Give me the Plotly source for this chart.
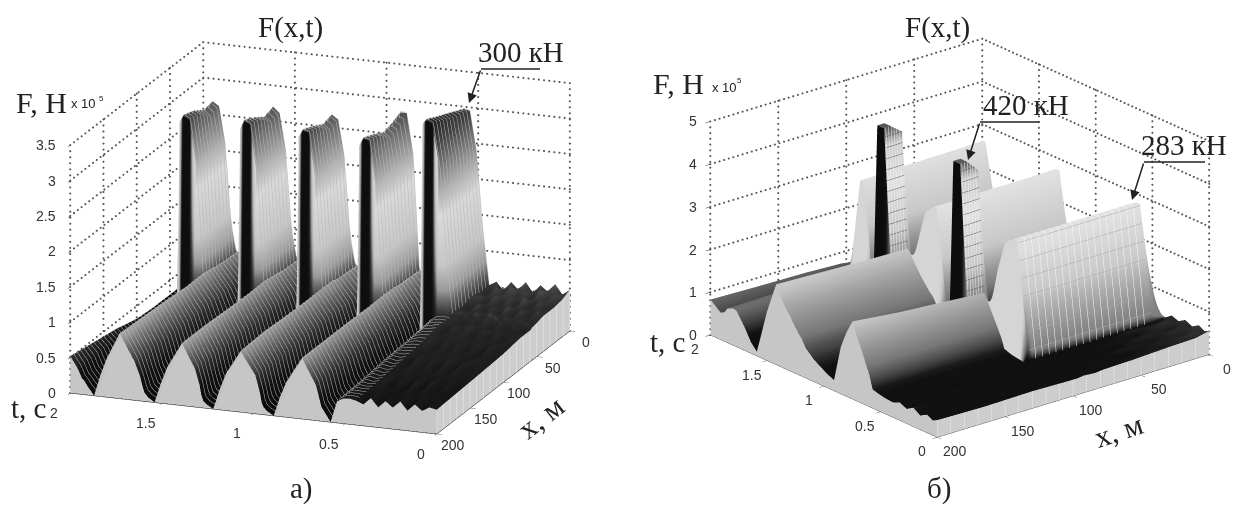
import numpy as np
import plotly.graph_objects as go

# ---------- panel a ----------
x_a = [0, 12, 25, 40, 54, 56, 59, 75, 100, 130, 165, 200]
t_a = [2.0, 1.96, 1.935, 1.925, 1.905, 1.87, 1.835, 1.80, 1.73, 1.65, 1.62, 1.605,
       1.595, 1.575, 1.54, 1.505, 1.47, 1.39, 1.32, 1.295, 1.285,
       1.275, 1.255, 1.22, 1.185, 1.15, 1.07, 0.99, 0.965, 0.955,
       0.945, 0.925, 0.89, 0.855, 0.82, 0.735, 0.66, 0.63, 0.61,
       0.60, 0.58, 0.545, 0.51, 0.475, 0.44,
       0.40, 0.36, 0.32, 0.28, 0.24, 0.20, 0.16, 0.12, 0.08, 0.04, 0.0]
F_a = [
 [.30,.30,.30,.30,.30,.30,.30,.30,.32,.40,.46,.52],
 [.25,.25,.25,.25,.25,.25,.25,.25,.27,.30,.35,.36],
 [.20,.20,.20,.20,.20,.20,.20,.20,.20,.20,.20,.22],
 [.30,2.65,2.7,2.75,2.8,2.8,.20,.20,.18,.15,.16,.20],
 [.30,2.78,2.75,2.85,2.9,2.9,.22,.20,.17,.14,.10,.12],
 [.30,2.72,2.66,2.8,2.85,2.85,.30,.25,.18,.12,.06,.0],
 [.30,2.2,2.1,2.1,2.2,2.2,.45,.40,.35,.30,.25,.30],
 [.60,.60,.60,.62,.65,.65,.60,.60,.55,.50,.50,.55],
 [.75,.75,.78,.78,.80,.80,.82,.85,.85,.88,.90,.92],
 [.52,.52,.52,.52,.52,.52,.54,.56,.54,.52,.52,.55],
 [.30,.30,.32,.35,.36,.36,.36,.36,.32,.28,.25,.35],
 [.20,.20,.20,.20,.20,.20,.20,.20,.20,.20,.18,.20],
 [.30,2.66,2.7,2.75,2.8,2.8,.20,.20,.18,.15,.12,.12],
 [.30,2.8,2.75,2.85,2.92,2.92,.22,.20,.16,.12,.08,.06],
 [.30,2.72,2.68,2.82,2.88,2.88,.30,.25,.18,.12,.05,.0],
 [.30,2.2,2.1,2.1,2.2,2.2,.45,.42,.36,.30,.25,.28],
 [.60,.60,.60,.62,.65,.65,.60,.60,.55,.52,.50,.52],
 [.75,.76,.78,.78,.80,.82,.82,.85,.85,.86,.88,.88],
 [.52,.52,.52,.54,.54,.54,.54,.56,.54,.52,.52,.54],
 [.30,.30,.32,.35,.36,.36,.36,.36,.32,.28,.25,.32],
 [.20,.20,.20,.20,.20,.20,.20,.20,.20,.20,.18,.18],
 [.30,2.64,2.68,2.72,2.78,2.78,.20,.20,.18,.15,.12,.10],
 [.30,2.78,2.74,2.82,2.88,2.88,.22,.20,.16,.12,.08,.05],
 [.30,2.72,2.66,2.8,2.86,2.86,.30,.25,.18,.12,.05,.0],
 [.30,2.2,2.1,2.12,2.2,2.2,.45,.42,.36,.30,.25,.28],
 [.60,.60,.62,.62,.65,.65,.60,.60,.56,.52,.50,.52],
 [.76,.76,.78,.80,.80,.82,.84,.85,.85,.86,.88,.86],
 [.52,.52,.54,.54,.54,.54,.54,.56,.54,.52,.52,.54],
 [.30,.30,.32,.35,.36,.36,.36,.36,.32,.28,.25,.30],
 [.20,.20,.20,.20,.20,.20,.20,.20,.20,.20,.18,.16],
 [2.55,2.6,2.66,2.7,2.75,2.75,.20,.20,.18,.15,.12,.10],
 [2.82,2.76,2.72,2.8,2.86,2.86,.22,.20,.16,.12,.08,.05],
 [2.82,2.7,2.64,2.78,2.84,2.84,.30,.25,.18,.12,.05,.0],
 [2.25,2.18,2.1,2.1,2.18,2.18,.45,.42,.36,.30,.25,.28],
 [.60,.60,.62,.62,.65,.65,.60,.60,.56,.52,.50,.50],
 [.78,.78,.80,.80,.82,.82,.84,.85,.85,.86,.86,.86],
 [.52,.54,.54,.54,.54,.54,.54,.54,.52,.50,.50,.50],
 [.30,.30,.32,.35,.36,.36,.36,.36,.32,.28,.22,.20],
 [.22,.22,.22,.22,.22,.22,.20,.20,.20,.18,.15,.12],
 [2.9,3.0,3.05,3.1,3.15,3.15,.22,.22,.18,.15,.10,.08],
 [2.97,3.02,3.08,3.15,3.22,3.22,.25,.22,.20,.15,.08,.0],
 [2.95,3.0,3.02,3.1,3.18,3.18,.42,.40,.38,.36,.32,.30],
 [2.4,2.5,2.5,2.55,2.6,2.6,.48,.46,.42,.40,.36,.35],
 [1.3,1.35,1.3,1.35,1.35,1.35,.50,.48,.44,.38,.34,.36],
 [.52,.50,.54,.50,.52,.50,.48,.50,.44,.40,.36,.34],
 [.58,.46,.56,.44,.54,.42,.52,.40,.48,.34,.42,.30],
 [.46,.60,.44,.56,.42,.54,.40,.50,.36,.46,.32,.40],
 [.60,.48,.58,.44,.56,.40,.50,.44,.46,.36,.40,.28],
 [.50,.62,.46,.54,.44,.50,.42,.52,.38,.44,.30,.38],
 [.62,.50,.56,.42,.58,.42,.54,.38,.48,.34,.42,.30],
 [.48,.58,.44,.58,.40,.56,.38,.50,.36,.46,.30,.40],
 [.60,.46,.60,.42,.54,.44,.52,.40,.46,.32,.42,.28],
 [.52,.62,.42,.56,.46,.50,.40,.48,.34,.44,.32,.38],
 [.64,.50,.56,.44,.52,.42,.50,.38,.46,.36,.38,.30],
 [.50,.58,.48,.54,.42,.52,.40,.46,.38,.40,.32,.36],
 [.58,.52,.50,.50,.46,.46,.44,.44,.40,.38,.36,.34],
]
tick_t_a = [0, 0.5, 1, 1.5, 2]
tick_x_a = [0, 50, 100, 150, 200]
tick_z_a = [0, 0.5, 1, 1.5, 2, 2.5, 3, 3.5]
light_a = [1.925, 1.595, 1.275, 0.945, 0.60]
dark_a = [1.905, 1.87, 1.575, 1.54, 1.255, 1.22, 0.925, 0.89, 0.58, 0.545]

# ---------- panel b ----------
x_b = [0, 10, 30, 55, 78, 84, 92, 97, 100, 103, 130, 165, 200]
t_b = [2.0, 1.95, 1.91, 1.875, 1.85, 1.8, 1.77, 1.76, 1.7, 1.64, 1.59, 1.5, 1.42, 1.38, 1.34, 1.3,
       1.23, 1.2, 1.16, 1.1, 1.09, 1.03, 0.97, 0.91, 0.85, 0.8, 0.746, 0.72, 0.66, 0.6, 0.57,
       0.52, 0.49, 0.44, 0.395, 0.39, 0.33, 0.27, 0.21, 0.15, 0.09, 0.04, 0.0]
F_b = [
 [.62,.65,.65,.70,.72,.72,.72,.72,.72,.74,.78,.80,.83],
 [.80,.80,.80,.80,.80,.80,.80,.80,.80,.70,.72,.70,.72],
 [.60,1.9,1.9,1.9,1.9,1.9,1.9,1.9,1.9,.62,.62,.60,.63],
 [.60,2.86,2.84,2.83,2.82,2.82,2.8,2.8,2.8,.66,.65,.66,.68],
 [.60,2.85,2.84,2.82,2.82,2.8,2.8,2.8,2.8,.80,.80,.82,.80],
 [.55,1.6,1.6,1.6,1.6,1.6,1.6,1.6,1.6,.85,.85,.85,.86],
 [.55,.55,.55,.55,.55,.55,.55,.55,.55,.80,.80,.82,.84],
 [.50,.50,.50,.50,.50,4.0,4.2,4.2,.55,.75,.75,.78,.80],
 [.45,.45,.45,.45,.50,4.0,4.2,4.2,.50,.50,.50,.52,.55],
 [.42,.42,.42,.42,.45,.90,.90,.90,.40,.25,.25,.25,.25],
 [.40,.40,.40,.40,.40,.40,.40,.40,.40,.12,.10,.12,.10],
 [.40,.40,.42,.42,.42,.42,.42,.42,.42,1.05,1.10,1.12,1.15],
 [.45,1.3,1.3,1.3,1.3,1.3,1.3,1.3,1.3,1.78,1.80,1.84,1.88],
 [.45,1.8,1.8,1.8,1.8,1.8,1.8,1.8,1.8,1.60,1.60,1.65,1.65],
 [.45,2.3,2.3,2.3,2.3,2.3,2.3,2.3,2.3,1.42,1.42,1.45,1.45],
 [.45,2.75,2.75,2.75,2.75,2.75,2.75,2.75,2.75,1.25,1.25,1.28,1.30],
 [.45,2.97,2.96,2.96,2.95,2.95,2.95,2.95,2.95,1.0,1.0,.98,1.0],
 [.45,2.97,2.96,2.96,2.95,2.95,2.95,2.95,2.95,.92,.90,.90,.90],
 [.45,1.9,1.9,1.9,1.9,1.9,1.9,1.9,1.9,.72,.70,.70,.70],
 [.42,.42,.42,.42,.42,.42,.42,.42,.42,.55,.55,.55,.55],
 [.40,.40,.40,.40,.40,3.9,4.17,4.17,.42,.52,.52,.52,.52],
 [.40,.40,.40,.40,.40,3.9,4.17,4.17,.42,.42,.42,.42,.42],
 [.38,.38,.38,.38,.40,.90,.90,.90,.40,.32,.32,.32,.32],
 [.38,.38,.38,.38,.38,.38,.38,.38,.38,.25,.24,.25,.25],
 [.38,.38,.38,.38,.38,.38,.38,.38,.38,1.0,1.05,1.10,1.10],
 [.38,.38,.38,.38,.38,.38,.38,.38,.38,1.35,1.40,1.45,1.50],
 [.40,.40,.40,.40,.40,.40,.40,.40,.40,1.55,1.62,1.70,1.82],
 [.42,1.3,1.3,1.3,1.3,1.3,1.3,1.3,1.3,1.40,1.45,1.55,1.60],
 [.42,2.2,2.2,2.2,2.2,2.2,2.2,2.2,2.2,1.05,1.10,1.15,1.20],
 [.42,2.85,2.85,2.85,2.85,2.85,2.85,2.85,2.85,.70,.72,.75,.75],
 [.42,2.95,2.95,2.95,2.95,2.95,2.95,2.95,2.95,.45,.45,.44,.44],
 [.42,3.03,3.03,3.04,3.05,3.05,3.05,3.05,3.05,.40,.40,.40,.40],
 [.42,3.03,3.03,3.04,3.05,3.05,3.05,3.05,3.05,.38,.38,.38,.38],
 [.42,1.7,1.7,1.7,1.7,1.7,1.7,1.7,1.7,.36,.36,.36,.36],
 [.42,.55,.55,.55,.55,.55,.55,.55,.55,.34,.34,.35,.35],
 [.40,.36,.36,.35,.35,.35,.35,.35,.35,.34,.34,.35,.35],
 [.52,.44,.46,.36,.38,.34,.40,.33,.38,.35,.40,.32,.42],
 [.46,.54,.40,.42,.34,.40,.34,.40,.32,.40,.33,.42,.34],
 [.56,.44,.48,.36,.40,.34,.40,.34,.40,.33,.42,.34,.44],
 [.48,.52,.42,.44,.36,.40,.33,.40,.35,.42,.34,.40,.33],
 [.58,.46,.46,.38,.42,.35,.40,.33,.38,.34,.40,.34,.42],
 [.50,.54,.44,.42,.36,.40,.36,.40,.34,.40,.35,.38,.35],
 [.55,.48,.46,.42,.40,.38,.40,.38,.38,.38,.40,.38,.40],
]
tick_t_b = [0, 0.5, 1, 1.5, 2]
tick_x_b = [0, 50, 100, 150, 200]
tick_z_b = [0, 1, 2, 3, 4, 5]
dark_b = [1.76, 1.7, 1.09, 1.03]
light_b = [1.91, 1.875, 1.85, 1.8, 1.42, 1.38, 1.34, 1.3, 1.23, 1.2, 1.16, 0.72, 0.66, 0.6, 0.57, 0.52, 0.49, 0.44]

CS_A = [[0, '#0a0a0a'], [.3/3.5, '#111111'], [.5/3.5, '#2c2c2c'], [.7/3.5, '#666666'], [.85/3.5, '#9a9a9a'],
        [1.2/3.5, '#c6c6c6'], [1.9/3.5, '#dadada'], [2.2/3.5, '#b4b4b4'], [2.6/3.5, '#777777'], [2.9/3.5, '#444444'], [3.2/3.5, '#222222'], [1, '#111111']]
CS_B = [[0, '#0a0a0a'], [.4/5, '#111111'], [.6/5, '#444444'], [.9/5, '#777777'], [1.3/5, '#999999'],
        [1.8/5, '#c8c8c8'], [3/5, '#e2e2e2'], [3.8/5, '#cccccc'], [4.2/5, '#555555'], [1, '#444444']]


def split_face(xs, rows, idx):
    """Duplicate the columns around one end face so it can be shaded on its own."""
    out_x = list(xs[:idx + 1]) + [xs[idx] + .2, xs[idx + 1], xs[idx + 1] + .1] + list(xs[idx + 2:])
    out = [list(r[:idx + 1]) + [r[idx], r[idx + 1], r[idx + 1]] + list(r[idx + 2:]) for r in rows]
    return out_x, out


def grid_trace(scene, t_ticks, x_ticks, z_ticks, n_x, n_t, n_z):
    """Dotted box grid on the two back walls, from the tick arrays."""
    top, tm, xm, xM = z_ticks[-1], max(t_ticks), min(x_ticks), max(x_ticks)
    xs, ys, zs = [], [], []
    def seg(p, q, n):
        for s in np.linspace(0, 1, n):
            xs.append(p[0] + (q[0] - p[0]) * s); ys.append(p[1] + (q[1] - p[1]) * s); zs.append(p[2] + (q[2] - p[2]) * s)
    for v in x_ticks:
        seg((tm, v, 0), (tm, v, top), n_z)
    for v in t_ticks:
        seg((v, xm, 0), (v, xm, top), n_z)
    for v in z_ticks:
        seg((tm, xm, v), (tm, xM, v), n_x)
        seg((0, xm, v), (tm, xm, v), n_t)
    return go.Scatter3d(x=xs, y=ys, z=zs, mode='markers', scene=scene, hoverinfo='skip', showlegend=False,
                        marker=dict(color='#555555', size=1.2, line=dict(width=0)))


LIGHT = dict(ambient=1, diffuse=0, specular=0, roughness=1, fresnel=0)


def surface_traces(scene, ts, xs, rows, cs, cmax, faces, bands=()):
    """faces: (column index, rows of t, colour value) for the faces shaded apart from the height."""
    xs2, rows2 = xs, rows
    split_at = sorted({f[0] for f in faces}, reverse=True)
    for idx in split_at:
        xs2, rows2 = split_face(xs2, rows2, idx)
    Z = np.array(rows2, float)
    C = Z.copy()
    for idx, which, val in faces:
        off = 2 * sum(1 for k in split_at if k < idx)
        for i, t in enumerate(ts):
            if t in which:
                C[i, idx + off + 1:idx + off + 3] = val
    for t, last, val in bands:
        C[ts.index(t), :last] = val
    tr = [go.Surface(x=ts, y=xs2, z=Z.T, surfacecolor=C.T, colorscale=cs, cmin=0, cmax=cmax, showscale=False,
                     scene=scene, lighting=LIGHT, hoverinfo='skip')]
    edge = Z[:, -1]
    tr.append(go.Surface(x=ts, y=[200, 200], z=[[0] * len(ts), list(edge)], surfacecolor=[[0] * len(ts)] * 2,
                         colorscale=[[0, '#c6c6c6'], [1, '#c6c6c6']], showscale=False, scene=scene, lighting=LIGHT,
                         hoverinfo='skip'))
    i0 = int(np.argmin(ts))
    tr.append(go.Surface(x=[0, 0], y=xs2, z=[[0, v] for v in Z[i0, :]], surfacecolor=[[0, 0] for _ in xs2],
                         colorscale=[[0, '#cdcdcd'], [1, '#cdcdcd']], showscale=False, scene=scene, lighting=LIGHT,
                         hoverinfo='skip',
                         contours=dict(y=dict(show=True, start=0, end=200, size=10, color='#ececec', width=1))))
    return tr


def mesh_overlay(scene, ts, xs, rows, t0, t1, x0, x1, lines):
    """Wire lines over one part of the surface, as in the original's open mesh."""
    ri = [i for i, t in enumerate(ts) if t0 <= t <= t1]
    ci = [j for j, v in enumerate(xs) if x0 <= v <= x1]
    sub = np.array(rows, float)[np.ix_(ri, ci)] + .01
    return go.Surface(x=[ts[i] for i in ri], y=[xs[j] for j in ci], z=sub.T, hidesurface=True, showscale=False,
                      colorscale=[[0, '#ffffff'], [1, '#ffffff']], scene=scene, hoverinfo='skip', lighting=LIGHT,
                      contours=lines)


fig = go.Figure()
for tr in surface_traces('scene', t_a, x_a, F_a, CS_A, 3.5, [(5, light_a, 1.4), (5, dark_a, 0.2)]):
    fig.add_trace(tr)
fig.add_trace(mesh_overlay('scene', t_a, x_a, F_a, 0.44, 2.0, 0, 200,
                           dict(y=dict(show=True, start=0, end=200, size=5, color='#b8b8b8', width=1))))
fig.add_trace(grid_trace('scene', tick_t_a, tick_x_a, tick_z_a, 36, 72, 42))
for tr in surface_traces('scene2', t_b, x_b, F_b, CS_B, 5, [(7, dark_b, 0.1), (8, light_b, 2.4)],
                         bands=[(0.395, 9, 1.0)]):
    fig.add_trace(tr)
fig.add_trace(mesh_overlay('scene2', t_b, x_b, F_b, 0.39, 0.52, 10, 100,
                           dict(y=dict(show=True, start=10, end=100, size=5, color='#f8f8f8', width=1),
                                z=dict(show=True, start=.6, end=3, size=.4, color='#a8a8a8', width=1))))
for t0, t1 in [(1.64, 1.7), (.97, 1.03)]:
    fig.add_trace(mesh_overlay('scene2', t_b, x_b, F_b, t0, t1, 84, 97,
                               dict(y=dict(show=True, start=84, end=97, size=2, color='#eeeeee', width=1),
                                    z=dict(show=True, start=1, end=4.2, size=.25, color='#555555', width=1))))
fig.add_trace(grid_trace('scene2', tick_t_b, tick_x_b, tick_z_b, 60, 60, 38))


def axis(ticks, rng, line=True, lw=2):
    return dict(range=rng, tickmode='array', tickvals=ticks, showticklabels=False,
                showgrid=False, zeroline=False, showbackground=False, showspikes=False, title=dict(text=''),
                showline=line, linecolor='#222222', linewidth=lw, ticks='outside', ticklen=6, tickcolor='#333333')


def tick_notes(t_ticks, x_ticks, z_ticks, t_shift, x_shift, z_shift):
    out = []
    base = dict(showarrow=False, font=dict(family='Liberation Sans', size=14, color='#333333'))
    for v in t_ticks:
        out.append(dict(x=v, y=max(x_ticks), z=0, text=str(v), xshift=t_shift[0], yshift=-t_shift[1], **base))
    for v in x_ticks:
        out.append(dict(x=0, y=v, z=0, text=str(v), xshift=x_shift[0], yshift=-x_shift[1], **base))
    for v in z_ticks:
        out.append(dict(x=max(t_ticks), y=max(x_ticks), z=v, text=str(v), xanchor='right', xshift=z_shift, yshift=0, **base))
    return out


R = 2.0
def cam(theta, phi, shift=0.0):
    th, ph = np.radians(theta), np.radians(phi)
    cx, cy = np.cos(th) * shift, np.sin(th) * shift
    return dict(eye=dict(x=-np.sin(th) * np.cos(ph) * R + cx, y=np.cos(th) * np.cos(ph) * R + cy, z=np.sin(ph) * R),
                center=dict(x=cx, y=cy, z=0), up=dict(x=0, y=0, z=1), projection=dict(type='orthographic'))


H = 507.0
W = 1234.0
KA, KB = 243.0, 234.0
fig.update_layout(
    width=1234, height=507, margin=dict(l=0, r=0, t=0, b=0), paper_bgcolor='white', showlegend=False,
    scene=dict(domain=dict(x=[0, 640 / W], y=[31 / H, 1]), xaxis=axis(tick_t_a, [0, 2]), yaxis=axis(tick_x_a, [0, 200]),
               zaxis=axis(tick_z_a, [0, 3.5], False), aspectmode='manual',
               aspectratio=dict(x=400.4 / KA, y=382.5 / KA, z=264.7 / KA), camera=cam(20.8, 17.1),
               annotations=tick_notes(tick_t_a, tick_x_a, tick_z_a, (-16, 20), (16, 11), -12)),
    scene2=dict(domain=dict(x=[660 / W, 1], y=[31 / H, 1]), xaxis=axis(tick_t_b, [0, 2], True, 1), yaxis=axis(tick_x_b, [0, 200], True, 1),
                zaxis=axis(tick_z_b, [0, 5], False), aspectmode='manual',
                aspectratio=dict(x=351.5 / KB, y=346 / KB, z=226 / KB), camera=cam(50.6, 21.75, 12.5 / KB),
                annotations=tick_notes(tick_t_b, tick_x_b, tick_z_b, (-15, 14), (18, 14), -11)),
)


def text(s, px, py, size=29, fam='Liberation Serif', rot=0, color='#222222'):
    fig.add_annotation(text=s, x=px / W, y=1 - py / H, xref='paper', yref='paper', showarrow=False, textangle=rot,
                       font=dict(family=fam, size=size, color=color), xanchor='center', yanchor='middle')


def arrow(x0, y0, x1, y1, x2, y2):
    fig.add_shape(type='line', xref='paper', yref='paper', x0=x0 / W, x1=x1 / W, y0=1 - y0 / H, y1=1 - y1 / H,
                  line=dict(color='#222222', width=1.5))
    fig.add_annotation(x=x2 / W, y=1 - y2 / H, xref='paper', yref='paper', ax=x1 - x2, ay=y1 - y2, axref='pixel',
                       ayref='pixel', text='', showarrow=True, arrowhead=2, arrowsize=1.3, arrowwidth=1.5,
                       arrowcolor='#222222')


text('F(x,t)', 290, 27)
text('F(x,t)', 938, 28)
text('a)', 301, 488)
text('б)', 939, 488)
text('F, H', 41, 102, 30)
text('x 10', 83, 104, 13, 'Liberation Sans')
text('5', 101, 98, 8, 'Liberation Sans')
text('F, H', 678, 84, 30)
text('x 10', 724, 87, 13, 'Liberation Sans')
text('5', 739, 80, 8, 'Liberation Sans')
text('t, c', 28, 408, 29)
text('t, c', 667, 342, 29)
text('x, м', 540, 417, 30, rot=-38)
text('x, м', 1118, 430, 30, rot=-18)
text('300 кН', 521, 52)
text('420 кН', 1026, 105)
text('283 кН', 1184, 145)
arrow(540, 69, 481, 69, 469, 103)
arrow(1039, 122, 980, 122, 968, 160)
arrow(1205, 162, 1144, 162, 1132, 200)

fig.write_html('out.html', config=dict(displayModeBar=False),
               post_script="document.body.style.margin='0';")
